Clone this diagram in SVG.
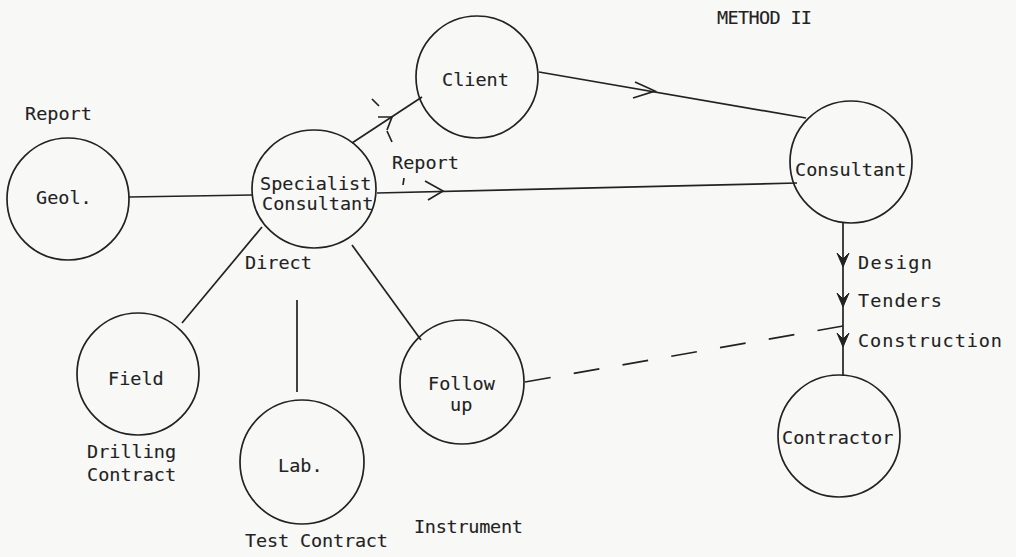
<svg xmlns="http://www.w3.org/2000/svg" width="1016" height="557" viewBox="0 0 1016 557">
<style>
  .n { fill: none; stroke: #222; stroke-width: 1.7; }
  .t { font-family: "DejaVu Sans Mono", "Liberation Mono", monospace; font-size: 18.5px; fill: #222; stroke: #222; stroke-width: 0.1; }
  .c { stroke: #222; stroke-width: 1.7; fill: none; }
  .d { stroke: #222; stroke-width: 1.7; fill: none; stroke-dasharray: 26 23.5; }
  .ah { fill: #222; stroke: #222; stroke-width: 1; }
</style>
<rect width="1016" height="557" fill="#f8f8f6"/>
<text class="t" x="717" y="24" textLength="95">METHOD II</text>
<text class="t" x="25" y="120">Report</text>
<text class="t" x="392" y="169">Report</text>
<text class="t" x="245" y="269">Direct</text>
<text class="t" x="87" y="458">Drilling</text>
<text class="t" x="87" y="481">Contract</text>
<text class="t" x="245" y="547" textLength="143">Test Contract</text>
<text class="t" x="414" y="533" textLength="109">Instrument</text>
<text class="t" x="858" y="269" textLength="74">Design</text>
<text class="t" x="858" y="307" textLength="84">Tenders</text>
<text class="t" x="858" y="347" textLength="144">Construction</text>
<g id="connectors">
  <line class="c" x1="129" y1="197" x2="252" y2="195"/>
  <line class="c" x1="352" y1="143" x2="422" y2="97"/>
  <polyline class="c" points="378,117 392,117 387,130"/>
  <line class="c" x1="377" y1="193" x2="797" y2="183"/>
  <polyline class="c" points="425,181 443,191 428,200"/>
  <line class="c" x1="539" y1="72" x2="806" y2="118"/>
  <polyline class="c" points="635,82 655,91 633,98"/>
  <line class="c" x1="262" y1="227" x2="182" y2="323"/>
  <line class="c" x1="352" y1="245" x2="421" y2="340"/>
  <line class="c" x1="297" y1="300" x2="297" y2="392"/>
  <line class="c" x1="843" y1="222" x2="843" y2="376"/>
  <path class="ah" d="M837,253 L843,267 L849,253 L843,259 Z"/>
  <path class="ah" d="M837,293 L843,307 L849,293 L843,299 Z"/>
  <path class="ah" d="M837,333 L843,347 L849,333 L843,339 Z"/>
  <line class="d" x1="525" y1="382" x2="843" y2="326"/>
  <line class="c" x1="372" y1="99" x2="379" y2="106"/>
  <line class="c" x1="387" y1="131" x2="392" y2="142"/>
  <line class="c" x1="404" y1="178" x2="403" y2="185"/>
</g>
<g id="client"><circle class="n" cx="477" cy="77" r="61"/><text class="t" x="442" y="86">Client</text></g>
<g id="consultant"><circle class="n" cx="851" cy="162" r="61"/><text class="t" x="795" y="176">Consultant</text></g>
<g id="geol"><circle class="n" cx="68" cy="199" r="61"/><text class="t" x="36" y="204">Geol.</text></g>
<g id="specialist"><ellipse class="n" cx="314" cy="189" rx="62" ry="59"/><text class="t" x="260" y="190">Specialist</text><text class="t" x="262" y="210">Consultant</text></g>
<g id="field"><circle class="n" cx="138" cy="374" r="61"/><text class="t" x="108" y="385">Field</text></g>
<g id="lab"><circle class="n" cx="302" cy="462" r="62"/><text class="t" x="278" y="472">Lab.</text></g>
<g id="followup"><circle class="n" cx="462" cy="382" r="62"/><text class="t" x="428" y="390">Follow</text><text class="t" x="450" y="411">up</text></g>
<g id="contractor"><circle class="n" cx="839" cy="436" r="61"/><text class="t" x="782" y="444">Contractor</text></g>
</svg>
